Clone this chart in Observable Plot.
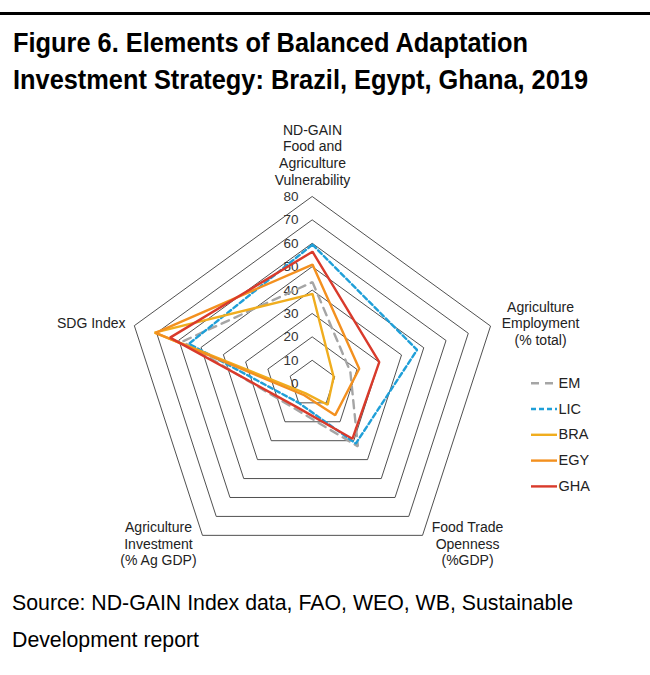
<!DOCTYPE html>
<html>
<head>
<meta charset="utf-8">
<script src="https://cdn.jsdelivr.net/npm/d3@7"></script>
<script src="https://cdn.jsdelivr.net/npm/@observablehq/plot@0.6"></script>
<style>
  body { margin: 0; background: #fff; font-family: "Liberation Sans", Arial, sans-serif; }
  #page { position: relative; width: 650px; height: 675px; overflow: hidden; }
  #rule { position: absolute; left: 0; top: 12px; width: 650px; height: 3px; background: #000; }
  #title { position: absolute; left: 13px; top: 24px; font-weight: bold; font-size: 27.5px; line-height: 37px; color: #000; }
  #title div { white-space: nowrap; display: inline-block; transform-origin: 0 50%; }
  #chart { position: absolute; left: 0; top: 100px; }
  #source { position: absolute; left: 12px; top: 585px; font-size: 21.3px; line-height: 37px; color: #000; white-space: nowrap; }
</style>
</head>
<body>
<div id="page">
  <div id="rule"></div>
  <div id="title"><div data-w="515">Figure 6. Elements of Balanced Adaptation</div><br><div data-w="575">Investment Strategy: Brazil, Egypt, Ghana, 2019</div></div>
  <div id="chart"></div>
  <div id="source">Source: ND-GAIN Index data, FAO, WEO, WB, Sustainable<br>Development report</div>
</div>
<script>
// spokes, clockwise from the top
const axisLabels = [
  "ND-GAIN\nFood and\nAgriculture\nVulnerability",
  "Agriculture\nEmployment\n(% total)",
  "Food Trade\nOpenness\n(%GDP)",
  "Agriculture\nInvestment\n(% Ag GDP)",
  "SDG Index"
]
const levels = [0, 10, 20, 30, 40, 50, 60, 70, 80]
const seriesNames = ["EM", "LIC", "BRA", "EGY", "GHA"]

// values, same order as axisLabels
const emValues  = [43.5, 17, 33, 13, 58.5]
const licValues = [59.5, 47, 31.5, 10, 55.5]
const braValues = [38.5, 9.5, 11, 5, 71]
const egyValues = [51, 21, 16.5, 6, 70.5]
const ghaValues = [56.5, 30, 29, 12, 64]

const seriesValues = {EM: emValues, LIC: licValues, BRA: braValues, EGY: egyValues, GHA: ghaValues}
const seriesStyle = {
  EM:  {stroke: "#a5a5a5", dash: "8,6"},
  LIC: {stroke: "#1f9fd8", dash: "5,3"},
  BRA: {stroke: "#f0ad1e", dash: null},
  EGY: {stroke: "#f3901f", dash: null},
  GHA: {stroke: "#d93a2b", dash: null}
}

// squeeze the title lines to the width they have in the figure
document.querySelectorAll('#title div').forEach(el => {
  const w = el.getBoundingClientRect().width
  el.style.transform = `scaleX(${+el.dataset.w / w})`
})

// layout (svg pixels)
const W = 650, H = 480
const CX = 312, CY = 283.4, U = 2.34   // centre and px per unit
const ux = px => (px - CX) / U
const uy = py => (CY - py) / U

const ang = i => Math.PI / 2 - i * 2 * Math.PI / 5
const polar = (v, i) => ({x: v * Math.cos(ang(i)), y: v * Math.sin(ang(i))})

const ringPts = levels.filter(l => l > 0).flatMap(l =>
  axisLabels.map((_, i) => ({level: l, ...polar(l, i)})))

const maxLevel = d3.max(levels)
const labelPts = axisLabels.map((t, i) => ({text: t, ...polar(maxLevel, i)}))
const labelOpts = [
  {textAnchor: "middle", lineAnchor: "bottom", dx: 0, dy: -12},
  {textAnchor: "middle", lineAnchor: "middle", dx: 50, dy: -3},
  {textAnchor: "middle", lineAnchor: "middle", dx: 45, dy: 8},
  {textAnchor: "middle", lineAnchor: "middle", dx: -44, dy: 8},
  {textAnchor: "end", lineAnchor: "middle", dx: -9, dy: -3}
]

const marks = []
marks.push(Plot.line(ringPts, {x: "x", y: "y", z: "level", curve: "linear-closed", stroke: "#3c3c3c", strokeWidth: 0.9}))
marks.push(Plot.text(levels, {x: 0, y: d => d, text: d => String(d), textAnchor: "end", dx: -14, fontSize: 13.5, fill: "#333"}))

labelPts.forEach((p, i) => {
  marks.push(Plot.text([p], {x: "x", y: "y", text: "text", fontSize: 14, lineHeight: 1.19, fill: "#222", ...labelOpts[i]}))
})

seriesNames.forEach(name => {
  const pts = seriesValues[name].map((v, i) => ({series: name, ...polar(v, i)}))
  const st = seriesStyle[name]
  marks.push(Plot.line(pts, {x: "x", y: "y", curve: "linear-closed", stroke: st.stroke, strokeWidth: 2.4,
    strokeDasharray: st.dash, strokeLinejoin: "miter"}))
})

// legend
const legendX1 = ux(531), legendX2 = ux(557)
seriesNames.forEach((name, k) => {
  const yy = uy(282.7 + k * 25.8)
  const st = seriesStyle[name]
  marks.push(Plot.ruleY([yy], {x1: legendX1, x2: legendX2, stroke: st.stroke, strokeWidth: 2.4, strokeDasharray: st.dash}))
  marks.push(Plot.text([name], {x: legendX2, y: yy, text: d => d, textAnchor: "start", dx: 1, fontSize: 14.5, fill: "#222"}))
})

const chart = Plot.plot({
  width: W,
  height: H,
  margin: 0,
  style: {fontFamily: "'Liberation Sans', Arial, sans-serif", background: "transparent"},
  x: {domain: [ux(0), ux(W)], axis: null},
  y: {domain: [uy(H), uy(0)], axis: null},
  marks
})
d3.select('#chart').append(() => chart)
</script>
</body>
</html>
